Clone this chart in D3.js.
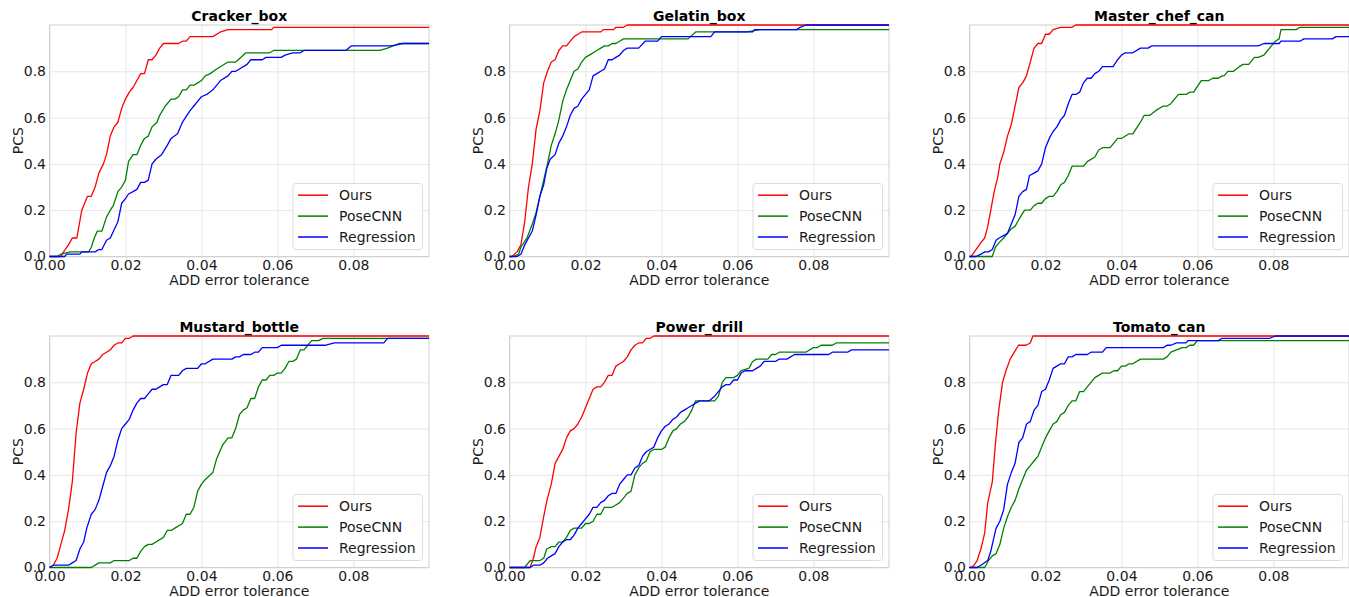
<!DOCTYPE html>
<html>
<head>
<meta charset="utf-8">
<script src="https://cdn.jsdelivr.net/npm/d3@7"></script>
<style>
  body { margin: 0; background: #fff; }
  svg { display: block; font-family: "DejaVu Sans", sans-serif; }
</style>
</head>
<body>
<svg id="chart" width="1349" height="597"></svg>
<script>
// PCS vs ADD error tolerance, points as [threshold, pcs]
const crackerOurs = [[0,0],[0.003,0],[0.0037,0.02],[0.005,0.05],[0.006,0.08],[0.0072,0.08],[0.0085,0.2],[0.01,0.26],[0.011,0.26],[0.012,0.3],[0.013,0.36],[0.0142,0.4],[0.015,0.44],[0.016,0.52],[0.017,0.56],[0.018,0.58],[0.019,0.64],[0.02,0.68],[0.021,0.71],[0.022,0.73],[0.023,0.76],[0.024,0.79],[0.025,0.79],[0.026,0.85],[0.027,0.85],[0.028,0.87],[0.029,0.9],[0.03,0.92],[0.034,0.92],[0.035,0.93],[0.036,0.93],[0.037,0.95],[0.043,0.95],[0.045,0.97],[0.047,0.98],[0.0585,0.98],[0.059,0.99],[0.0999,0.99]];
const crackerPose = [[0,0],[0.002,0],[0.003,0.01],[0.0055,0.02],[0.0103,0.02],[0.011,0.04],[0.0118,0.08],[0.0126,0.11],[0.0138,0.11],[0.015,0.17],[0.016,0.2],[0.0168,0.22],[0.018,0.28],[0.019,0.3],[0.02,0.33],[0.0208,0.41],[0.022,0.44],[0.023,0.44],[0.024,0.48],[0.025,0.51],[0.026,0.52],[0.027,0.56],[0.0283,0.58],[0.029,0.61],[0.0305,0.65],[0.032,0.68],[0.033,0.68],[0.034,0.69],[0.035,0.72],[0.036,0.72],[0.037,0.74],[0.038,0.74],[0.039,0.75],[0.04,0.76],[0.041,0.78],[0.0423,0.79],[0.044,0.81],[0.047,0.84],[0.049,0.84],[0.0497,0.85],[0.0517,0.88],[0.058,0.88],[0.059,0.89],[0.087,0.89],[0.089,0.9],[0.092,0.92],[0.0999,0.92]];
const crackerReg = [[0,0],[0.004,0],[0.0045,0.01],[0.008,0.01],[0.0085,0.02],[0.012,0.02],[0.013,0.03],[0.0138,0.03],[0.015,0.07],[0.016,0.08],[0.018,0.15],[0.019,0.23],[0.02,0.25],[0.0208,0.27],[0.022,0.28],[0.023,0.29],[0.024,0.32],[0.025,0.32],[0.026,0.33],[0.027,0.4],[0.028,0.42],[0.0295,0.44],[0.031,0.48],[0.032,0.51],[0.0337,0.53],[0.035,0.58],[0.037,0.63],[0.038,0.65],[0.039,0.67],[0.04,0.69],[0.0414,0.7],[0.043,0.72],[0.045,0.76],[0.047,0.78],[0.048,0.8],[0.049,0.8],[0.05,0.81],[0.052,0.83],[0.053,0.85],[0.056,0.85],[0.057,0.86],[0.061,0.86],[0.062,0.87],[0.064,0.88],[0.066,0.88],[0.067,0.89],[0.078,0.89],[0.0795,0.91],[0.09,0.91],[0.093,0.92],[0.0999,0.92]];

const gelatinOurs = [[0,0],[0.0006,0],[0.002,0.02],[0.003,0.05],[0.004,0.15],[0.005,0.3],[0.006,0.4],[0.007,0.55],[0.008,0.63],[0.009,0.75],[0.01,0.8],[0.011,0.84],[0.012,0.85],[0.013,0.89],[0.014,0.91],[0.015,0.91],[0.016,0.93],[0.017,0.95],[0.018,0.96],[0.019,0.97],[0.024,0.97],[0.0247,0.98],[0.0274,0.98],[0.028,0.99],[0.03,0.99],[0.031,1],[0.0999,1]];
const gelatinPose = [[0,0],[0.001,0],[0.0024,0.01],[0.003,0.04],[0.0046,0.08],[0.006,0.14],[0.007,0.19],[0.008,0.26],[0.009,0.33],[0.01,0.4],[0.011,0.48],[0.012,0.53],[0.013,0.59],[0.014,0.67],[0.015,0.72],[0.016,0.76],[0.017,0.8],[0.018,0.81],[0.019,0.84],[0.02,0.86],[0.021,0.87],[0.023,0.89],[0.025,0.91],[0.026,0.91],[0.027,0.92],[0.028,0.92],[0.029,0.93],[0.03,0.94],[0.047,0.94],[0.049,0.97],[0.0625,0.97],[0.066,0.98],[0.0999,0.98]];
const gelatinReg = [[0,0],[0.002,0],[0.003,0.01],[0.004,0.05],[0.005,0.08],[0.006,0.11],[0.007,0.18],[0.008,0.26],[0.009,0.31],[0.0098,0.38],[0.0107,0.42],[0.012,0.44],[0.013,0.49],[0.014,0.52],[0.015,0.56],[0.016,0.61],[0.017,0.64],[0.018,0.65],[0.019,0.68],[0.02,0.7],[0.021,0.72],[0.022,0.78],[0.023,0.79],[0.024,0.8],[0.025,0.81],[0.026,0.85],[0.027,0.85],[0.028,0.86],[0.029,0.87],[0.03,0.89],[0.031,0.9],[0.034,0.9],[0.0357,0.93],[0.039,0.93],[0.04,0.95],[0.053,0.95],[0.054,0.97],[0.064,0.97],[0.0645,0.98],[0.0756,0.98],[0.0765,0.99],[0.078,1],[0.0999,1]];

const masterOurs = [[0,0],[0.0004,0],[0.0017,0.03],[0.003,0.06],[0.004,0.08],[0.0048,0.13],[0.0056,0.2],[0.0065,0.28],[0.0074,0.34],[0.008,0.4],[0.009,0.45],[0.01,0.52],[0.011,0.57],[0.012,0.65],[0.013,0.73],[0.014,0.75],[0.015,0.78],[0.016,0.84],[0.017,0.9],[0.018,0.92],[0.019,0.92],[0.02,0.96],[0.021,0.96],[0.022,0.98],[0.024,0.99],[0.027,0.99],[0.028,1],[0.0999,1]];
const masterPose = [[0,0],[0.006,0],[0.0068,0.04],[0.0078,0.06],[0.009,0.08],[0.01,0.1],[0.011,0.12],[0.012,0.13],[0.013,0.16],[0.0145,0.2],[0.016,0.2],[0.017,0.22],[0.018,0.23],[0.019,0.23],[0.02,0.25],[0.021,0.26],[0.022,0.26],[0.023,0.28],[0.024,0.31],[0.025,0.32],[0.026,0.35],[0.027,0.39],[0.03,0.39],[0.031,0.41],[0.033,0.43],[0.034,0.46],[0.035,0.47],[0.037,0.47],[0.039,0.51],[0.04,0.51],[0.042,0.53],[0.043,0.53],[0.045,0.58],[0.046,0.61],[0.0475,0.61],[0.049,0.63],[0.051,0.65],[0.052,0.65],[0.053,0.66],[0.055,0.7],[0.057,0.7],[0.058,0.71],[0.059,0.71],[0.061,0.76],[0.063,0.76],[0.064,0.77],[0.0655,0.77],[0.0665,0.78],[0.067,0.78],[0.068,0.8],[0.0695,0.8],[0.071,0.82],[0.072,0.83],[0.0735,0.83],[0.075,0.86],[0.076,0.86],[0.0775,0.87],[0.078,0.88],[0.079,0.9],[0.0805,0.93],[0.0815,0.94],[0.082,0.98],[0.086,0.98],[0.087,0.99],[0.0999,0.99]];
const masterReg = [[0,0],[0.0017,0],[0.003,0.01],[0.004,0.02],[0.005,0.02],[0.006,0.03],[0.007,0.07],[0.0078,0.08],[0.009,0.09],[0.01,0.1],[0.011,0.14],[0.012,0.18],[0.013,0.26],[0.014,0.28],[0.015,0.29],[0.0158,0.35],[0.017,0.36],[0.018,0.37],[0.019,0.4],[0.02,0.47],[0.021,0.51],[0.022,0.54],[0.023,0.56],[0.024,0.59],[0.025,0.61],[0.026,0.66],[0.027,0.7],[0.028,0.7],[0.029,0.71],[0.03,0.75],[0.031,0.77],[0.032,0.77],[0.033,0.79],[0.034,0.8],[0.035,0.82],[0.0378,0.82],[0.039,0.85],[0.04,0.87],[0.041,0.88],[0.043,0.88],[0.045,0.9],[0.047,0.9],[0.048,0.91],[0.076,0.91],[0.0775,0.92],[0.0815,0.92],[0.082,0.93],[0.087,0.93],[0.088,0.94],[0.0955,0.94],[0.0965,0.95],[0.0999,0.95]];

const mustardOurs = [[0,0],[0.001,0.01],[0.002,0.04],[0.003,0.1],[0.004,0.16],[0.005,0.25],[0.006,0.37],[0.007,0.58],[0.008,0.71],[0.009,0.77],[0.01,0.84],[0.011,0.88],[0.012,0.89],[0.013,0.9],[0.014,0.92],[0.015,0.93],[0.016,0.94],[0.017,0.96],[0.018,0.97],[0.019,0.97],[0.02,0.99],[0.021,0.99],[0.022,1],[0.0999,1]];
const mustardPose = [[0,0],[0.011,0],[0.013,0.02],[0.016,0.02],[0.017,0.03],[0.021,0.03],[0.022,0.04],[0.023,0.04],[0.024,0.07],[0.025,0.09],[0.026,0.1],[0.027,0.1],[0.028,0.11],[0.03,0.13],[0.031,0.16],[0.032,0.16],[0.033,0.17],[0.035,0.19],[0.036,0.23],[0.037,0.23],[0.038,0.26],[0.039,0.33],[0.04,0.36],[0.041,0.38],[0.043,0.41],[0.044,0.47],[0.0456,0.53],[0.047,0.56],[0.048,0.56],[0.049,0.6],[0.05,0.66],[0.051,0.68],[0.052,0.69],[0.053,0.73],[0.054,0.73],[0.055,0.78],[0.056,0.81],[0.057,0.81],[0.058,0.83],[0.059,0.83],[0.06,0.84],[0.061,0.84],[0.062,0.86],[0.063,0.89],[0.064,0.89],[0.065,0.9],[0.066,0.94],[0.067,0.94],[0.068,0.96],[0.069,0.98],[0.0708,0.98],[0.072,0.99],[0.0999,0.99]];
const mustardReg = [[0,0],[0.001,0.01],[0.005,0.01],[0.006,0.02],[0.007,0.03],[0.008,0.08],[0.009,0.11],[0.0098,0.17],[0.011,0.23],[0.012,0.25],[0.013,0.29],[0.014,0.35],[0.015,0.41],[0.016,0.44],[0.017,0.48],[0.018,0.55],[0.019,0.6],[0.02,0.62],[0.021,0.64],[0.022,0.68],[0.023,0.71],[0.024,0.73],[0.025,0.73],[0.026,0.75],[0.027,0.77],[0.028,0.77],[0.029,0.78],[0.03,0.79],[0.031,0.79],[0.032,0.83],[0.034,0.83],[0.035,0.85],[0.036,0.86],[0.039,0.86],[0.04,0.88],[0.041,0.88],[0.043,0.9],[0.048,0.9],[0.049,0.91],[0.05,0.91],[0.051,0.92],[0.053,0.92],[0.054,0.93],[0.055,0.93],[0.056,0.95],[0.06,0.95],[0.061,0.96],[0.0725,0.96],[0.075,0.97],[0.088,0.97],[0.089,0.99],[0.0999,0.99]];

const drillOurs = [[0,0],[0.0054,0],[0.0063,0.04],[0.007,0.09],[0.008,0.13],[0.009,0.22],[0.01,0.3],[0.011,0.36],[0.012,0.45],[0.013,0.48],[0.014,0.51],[0.015,0.56],[0.016,0.59],[0.017,0.6],[0.018,0.62],[0.019,0.65],[0.02,0.69],[0.021,0.73],[0.022,0.77],[0.023,0.78],[0.024,0.78],[0.025,0.8],[0.026,0.83],[0.027,0.83],[0.028,0.87],[0.029,0.88],[0.03,0.89],[0.031,0.91],[0.032,0.94],[0.033,0.96],[0.034,0.97],[0.035,0.97],[0.036,0.99],[0.037,0.99],[0.038,1],[0.0999,1]];
const drillPose = [[0,0],[0.004,0],[0.0054,0.03],[0.008,0.03],[0.009,0.04],[0.0098,0.08],[0.011,0.09],[0.012,0.09],[0.013,0.11],[0.014,0.11],[0.015,0.13],[0.016,0.16],[0.017,0.17],[0.019,0.17],[0.02,0.19],[0.021,0.19],[0.022,0.2],[0.023,0.23],[0.024,0.23],[0.025,0.26],[0.027,0.26],[0.028,0.27],[0.029,0.28],[0.03,0.3],[0.031,0.32],[0.032,0.33],[0.033,0.4],[0.034,0.43],[0.035,0.45],[0.036,0.46],[0.037,0.5],[0.038,0.51],[0.04,0.51],[0.041,0.52],[0.042,0.56],[0.043,0.59],[0.044,0.6],[0.045,0.62],[0.046,0.63],[0.047,0.65],[0.048,0.68],[0.049,0.72],[0.054,0.72],[0.055,0.74],[0.056,0.8],[0.057,0.82],[0.059,0.82],[0.06,0.83],[0.061,0.85],[0.063,0.86],[0.064,0.89],[0.065,0.9],[0.068,0.9],[0.069,0.92],[0.07,0.92],[0.071,0.93],[0.078,0.93],[0.08,0.95],[0.081,0.95],[0.082,0.96],[0.085,0.96],[0.086,0.97],[0.0999,0.97]];
const drillReg = [[0,0],[0.0054,0],[0.0063,0.01],[0.008,0.01],[0.009,0.02],[0.01,0.04],[0.011,0.05],[0.012,0.06],[0.013,0.09],[0.014,0.11],[0.015,0.12],[0.016,0.12],[0.017,0.14],[0.018,0.17],[0.019,0.19],[0.02,0.21],[0.021,0.23],[0.022,0.26],[0.023,0.26],[0.024,0.28],[0.025,0.29],[0.026,0.31],[0.027,0.32],[0.028,0.32],[0.029,0.36],[0.03,0.38],[0.031,0.4],[0.032,0.4],[0.033,0.43],[0.034,0.44],[0.035,0.48],[0.036,0.5],[0.037,0.51],[0.038,0.52],[0.039,0.56],[0.04,0.59],[0.041,0.61],[0.042,0.62],[0.043,0.64],[0.044,0.65],[0.045,0.67],[0.046,0.68],[0.047,0.69],[0.048,0.7],[0.049,0.71],[0.05,0.72],[0.0526,0.72],[0.054,0.74],[0.055,0.76],[0.056,0.78],[0.057,0.79],[0.058,0.79],[0.059,0.81],[0.06,0.81],[0.061,0.84],[0.062,0.85],[0.064,0.85],[0.065,0.86],[0.066,0.87],[0.067,0.89],[0.07,0.89],[0.071,0.9],[0.073,0.9],[0.074,0.91],[0.075,0.92],[0.084,0.92],[0.085,0.93],[0.089,0.93],[0.09,0.94],[0.0999,0.94]];

const tomatoOurs = [[0,0],[0.0004,0],[0.0012,0.01],[0.002,0.03],[0.003,0.08],[0.004,0.15],[0.0048,0.28],[0.006,0.37],[0.0068,0.53],[0.0077,0.68],[0.0087,0.8],[0.0096,0.85],[0.0107,0.9],[0.0118,0.93],[0.0129,0.96],[0.0149,0.96],[0.016,0.97],[0.0167,1],[0.0999,1]];
const tomatoPose = [[0,0],[0.004,0],[0.005,0.03],[0.006,0.05],[0.007,0.06],[0.008,0.1],[0.009,0.17],[0.01,0.22],[0.011,0.26],[0.012,0.29],[0.013,0.34],[0.014,0.38],[0.015,0.42],[0.016,0.44],[0.017,0.46],[0.018,0.48],[0.019,0.52],[0.02,0.56],[0.021,0.59],[0.022,0.62],[0.023,0.63],[0.024,0.66],[0.025,0.67],[0.026,0.7],[0.027,0.72],[0.028,0.72],[0.029,0.76],[0.03,0.76],[0.031,0.78],[0.032,0.8],[0.033,0.82],[0.034,0.83],[0.035,0.84],[0.037,0.84],[0.038,0.85],[0.039,0.85],[0.04,0.87],[0.041,0.87],[0.042,0.88],[0.043,0.88],[0.045,0.9],[0.051,0.9],[0.052,0.91],[0.053,0.93],[0.0545,0.94],[0.056,0.95],[0.057,0.95],[0.058,0.96],[0.059,0.96],[0.06,0.98],[0.0999,0.98]];
const tomatoReg = [[0,0],[0.002,0],[0.003,0.01],[0.0048,0.03],[0.0056,0.07],[0.0063,0.12],[0.007,0.17],[0.008,0.2],[0.009,0.25],[0.01,0.36],[0.011,0.41],[0.012,0.45],[0.013,0.54],[0.014,0.56],[0.015,0.62],[0.016,0.63],[0.017,0.68],[0.018,0.7],[0.019,0.76],[0.02,0.77],[0.021,0.81],[0.022,0.86],[0.023,0.87],[0.024,0.88],[0.025,0.88],[0.026,0.91],[0.027,0.91],[0.028,0.92],[0.031,0.92],[0.032,0.93],[0.035,0.93],[0.036,0.95],[0.051,0.95],[0.052,0.96],[0.053,0.96],[0.0545,0.97],[0.057,0.97],[0.0575,0.98],[0.0655,0.98],[0.0665,0.99],[0.079,0.99],[0.0805,1],[0.0999,1]];

const titles = ["Cracker_box", "Gelatin_box", "Master_chef_can", "Mustard_bottle", "Power_drill", "Tomato_can"];
const methods = ["Ours", "PoseCNN", "Regression"];
const colors = ["#ff0000", "#008000", "#0000ff"];
const xTicks = [0, 0.02, 0.04, 0.06, 0.08];
const yTicks = [0, 0.2, 0.4, 0.6, 0.8];

const panels = [
    [crackerOurs, crackerPose, crackerReg],
    [gelatinOurs, gelatinPose, gelatinReg],
    [masterOurs, masterPose, masterReg],
    [mustardOurs, mustardPose, mustardReg],
    [drillOurs, drillPose, drillReg],
    [tomatoOurs, tomatoPose, tomatoReg]
];

// layout of the 2x3 grid
var colLeft = [49.5, 509.5, 969.5],
    rowTop = [25, 336],
    width = 379.5,
    height = 231.5,
    fontSize = "14px";

var svg = d3.select("#chart");

var x = d3.scaleLinear().domain([0, 0.0999]).range([0, width]);
var y = d3.scaleLinear().domain([0, 1]).range([height, 0]);

var line = d3.line()
    .x(function (d) { return x(d[0]); })
    .y(function (d) { return y(d[1]); });

svg.append("defs").append("clipPath")
    .attr("id", "plotClip")
    .append("rect")
    .attr("x", -1).attr("y", -2)
    .attr("width", width + 2).attr("height", height + 4);

panels.forEach(function (series, p) {
    var g = svg.append("g")
        .attr("transform", "translate(" + colLeft[p % 3] + "," + rowTop[Math.floor(p / 3)] + ")");

    // x grid + tick labels
    var gx = g.append("g")
        .attr("transform", "translate(0," + height + ")")
        .call(d3.axisBottom(x).tickValues(xTicks).tickFormat(d3.format(".2f")).tickSize(-height).tickPadding(3.5));

    // y grid + tick labels
    var gy = g.append("g")
        .call(d3.axisLeft(y).tickValues(yTicks).tickFormat(d3.format(".1f")).tickSize(-width).tickPadding(3.5));

    [gx, gy].forEach(function (a) {
        a.select(".domain").remove();
        a.selectAll(".tick line").attr("stroke", "#e6e6e6").attr("stroke-width", 1);
        a.selectAll(".tick text")
            .attr("fill", "#1a1a1a")
            .style("font-size", fontSize)
            .style("font-family", "DejaVu Sans");
    });

    // frame
    g.append("rect")
        .attr("width", width)
        .attr("height", height)
        .attr("fill", "none")
        .attr("stroke", "#d0d0d0")
        .attr("stroke-width", 1);

    // curves
    var lines = g.append("g").attr("clip-path", "url(#plotClip)");
    series.forEach(function (data, i) {
        lines.append("path")
            .datum(data)
            .attr("fill", "none")
            .attr("stroke", colors[i])
            .attr("stroke-width", 1.3)
            .attr("stroke-linejoin", "round")
            .attr("d", line);
    });

    // title
    g.append("text")
        .attr("x", width / 2)
        .attr("y", -4)
        .attr("text-anchor", "middle")
        .style("font-size", fontSize)
        .style("font-weight", "bold")
        .attr("fill", "#000")
        .text(titles[p]);

    // axis labels
    g.append("text")
        .attr("x", width / 2)
        .attr("y", height + 28.5)
        .attr("text-anchor", "middle")
        .style("font-size", fontSize)
        .attr("fill", "#1a1a1a")
        .text("ADD error tolerance");

    g.append("text")
        .attr("transform", "translate(-27," + (height / 2) + ")rotate(-90)")
        .attr("text-anchor", "middle")
        .style("font-size", fontSize)
        .attr("fill", "#1a1a1a")
        .text("PCS");

    // legend, lower right
    var lw = 129.5, lh = 66,
        lx = width - 6.5 - lw,
        ly = height - 7 - lh;
    var legend = g.append("g").attr("transform", "translate(" + lx + "," + ly + ")");
    legend.append("rect")
        .attr("width", lw)
        .attr("height", lh)
        .attr("rx", 3)
        .attr("fill", "#fff")
        .attr("fill-opacity", 0.8)
        .attr("stroke", "#dddddd");

    var rows = legend.selectAll("g.row")
        .data(methods)
        .enter()
        .append("g")
        .attr("class", "row")
        .attr("transform", function (d, i) { return "translate(0," + (11.7 + i * 20.9) + ")"; });

    rows.append("line")
        .attr("x1", 5).attr("x2", 35)
        .attr("stroke", function (d, i) { return colors[i]; })
        .attr("stroke-width", 1.5);

    rows.append("text")
        .attr("x", 46)
        .attr("y", 5)
        .style("font-size", fontSize)
        .attr("fill", "#1a1a1a")
        .text(function (d) { return d; });
});
</script>
</body>
</html>
